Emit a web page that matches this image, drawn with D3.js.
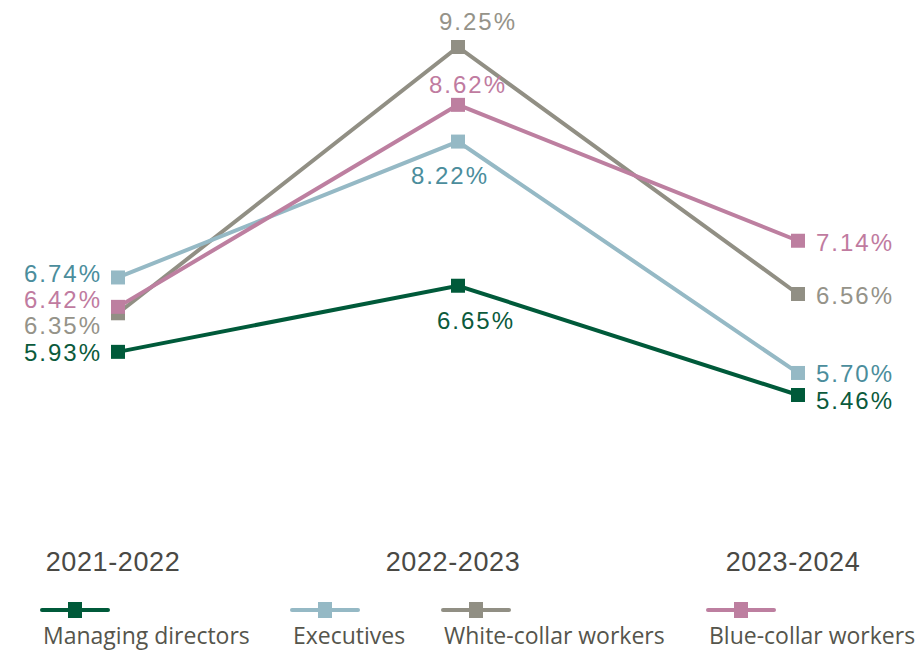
<!DOCTYPE html>
<html>
<head>
<meta charset="utf-8">
<script src="https://cdn.jsdelivr.net/npm/d3@7"></script>
<style>
  body { margin: 0; background: #fff; }
  text { font-family: "Liberation Sans", Arial, sans-serif; }
</style>
</head>
<body>
<div id="chart"></div>
<script>
// periods and series
var periods = ["2021-2022", "2022-2023", "2023-2024"];
var managingDirectors = [5.93, 6.65, 5.46];
var executives = [6.74, 8.22, 5.70];
var whiteCollar = [6.35, 9.25, 6.56];
var blueCollar = [6.42, 8.62, 7.14];

var series = [
    {name: "Managing directors", values: managingDirectors, color: "#005a3a", label: "#0b5a3c"},
    {name: "Executives", values: executives, color: "#95b9c5", label: "#4b8d9c"},
    {name: "White-collar workers", values: whiteCollar, color: "#918f84", label: "#959389"},
    {name: "Blue-collar workers", values: blueCollar, color: "#bd7fa0", label: "#c07ba0"}
];

var width = 919, height = 651;

var svg = d3.select("#chart").append("svg")
    .attr("width", width)
    .attr("height", height);

var x = d3.scalePoint().domain(periods).range([118, 798]);
var y = d3.scaleLinear().domain([5.46, 9.25]).range([395, 47]);

var line = d3.line()
    .x(function (d, i) {return x(periods[i]);})
    .y(function (d) {return y(d);});

// draw order: white collar at the back, then blue, pink, green
var drawOrder = [2, 1, 3, 0];
drawOrder.forEach(function (k) {
    var s = series[k];
    var g = svg.append("g");
    g.append("path")
        .datum(s.values)
        .attr("fill", "none")
        .attr("stroke", s.color)
        .attr("stroke-width", 4)
        .attr("d", line);
    g.selectAll("rect")
        .data(s.values)
        .enter().append("rect")
        .attr("x", function (d, i) {return x(periods[i]) - 7;})
        .attr("y", function (d) {return y(d) - 7;})
        .attr("width", 14)
        .attr("height", 14)
        .attr("fill", s.color);
});

// value labels, offsets per series/period
var fmt = function (v) {return v.toFixed(2) + "%";};
var leftLabelY = {0: 361, 1: 282, 2: 334, 3: 308};
var midLabelOffset = {0: [18, 43], 1: [-8, 42], 2: [20, -17], 3: [10, -12]};
var rightLabelOffset = {0: [18, 14], 1: [18, 9], 2: [18, 10], 3: [18, 10]};

series.forEach(function (s, k) {
    var g = svg.append("g")
        .style("font-size", "24px")
        .style("letter-spacing", "2px")
        .attr("fill", s.label);
    g.append("text")
        .attr("x", x(periods[0]) - 16)
        .attr("y", leftLabelY[k])
        .attr("text-anchor", "end")
        .text(fmt(s.values[0]));
    g.append("text")
        .attr("x", x(periods[1]) + midLabelOffset[k][0])
        .attr("y", y(s.values[1]) + midLabelOffset[k][1])
        .attr("text-anchor", "middle")
        .text(fmt(s.values[1]));
    g.append("text")
        .attr("x", x(periods[2]) + rightLabelOffset[k][0])
        .attr("y", y(s.values[2]) + rightLabelOffset[k][1])
        .attr("text-anchor", "start")
        .text(fmt(s.values[2]));
});

// period labels
svg.append("g").selectAll("text")
    .data(periods)
    .enter().append("text")
    .attr("x", function (d) {return x(d) - 5;})
    .attr("y", 571)
    .attr("text-anchor", "middle")
    .style("font-size", "27px")
    .style("letter-spacing", "0.6px")
    .attr("fill", "#4a4944")
    .text(function (d) {return d;});

// legend
var legendX = [42, 292, 443, 708];
var legend = svg.append("g").selectAll("g")
    .data(series)
    .enter().append("g")
    .attr("transform", function (d, i) {return "translate(" + legendX[i] + ",0)";});
legend.append("line")
    .attr("x1", 0).attr("x2", 66)
    .attr("y1", 610).attr("y2", 610)
    .attr("stroke", function (d) {return d.color;})
    .attr("stroke-width", 4)
    .attr("stroke-linecap", "round");
legend.append("rect")
    .attr("x", 26).attr("y", 602)
    .attr("width", 14).attr("height", 16)
    .attr("fill", function (d) {return d.color;});
legend.append("text")
    .attr("x", 1)
    .attr("y", 644)
    .style("font-family", "'Open Sans', sans-serif")
    .style("font-size", "23px")
    .attr("fill", "#55554c")
    .text(function (d) {return d.name;});
</script>
</body>
</html>
